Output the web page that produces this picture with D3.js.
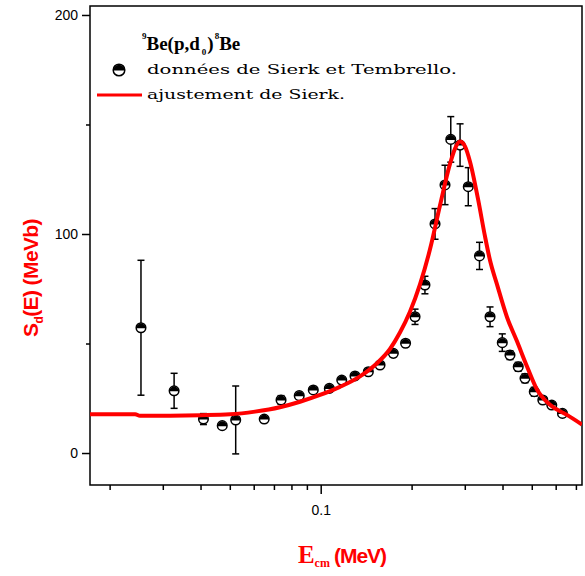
<!DOCTYPE html>
<html>
<head>
<meta charset="utf-8">
<script src="https://cdn.jsdelivr.net/npm/d3@7"></script>
<style>
  html, body { margin: 0; padding: 0; background: #fff; }
  svg { display: block; }
  .tick text { font-family: "Liberation Sans", Arial, sans-serif; font-size: 14px; fill: #000; }
</style>
</head>
<body>
<svg id="chart" width="585" height="576"></svg>
<script>
    // --- data ---
    const energies = [0.0254, 0.0327, 0.0409, 0.0472, 0.0523, 0.0650, 0.0739, 0.0849, 0.0945, 0.1068, 0.1174,
        0.1299, 0.1438, 0.1572, 0.1740, 0.1910, 0.2053, 0.2214, 0.2391, 0.2580, 0.2696, 0.2894, 0.3081,
        0.3356, 0.3637, 0.3993, 0.4234, 0.4510, 0.4748, 0.5096, 0.5439, 0.5823, 0.6318];
    const sValues = [57.2, 28.4, 15.5, 12.5, 15.1, 15.5, 24.2, 26.2, 28.8, 29.5, 33.3,
        35.2, 37.1, 40.2, 45.5, 50.1, 62.2, 76.7, 104.6, 122.4, 143.2, 140.6, 121.6,
        90.0, 62.2, 50.4, 44.7, 39.4, 34.1, 28.0, 24.2, 21.9, 18.1];
    const sErrors = [30.8, 8.0, 2.5, 0, 15.5, 1.5, 2.0, 1.5, 1.5, 1.5, 1.5,
        1.5, 1.5, 1.5, 1.5, 1.5, 3.5, 4.0, 7.0, 9.0, 10.4, 9.7, 8.7,
        6.2, 4.5, 4.0, 2.0, 2.0, 2.0, 2.0, 1.5, 1.5, 1.5];

    const fitEnergies = [0.0172, 0.0243, 0.0252, 0.0399, 0.0501, 0.0606, 0.0733, 0.0854, 0.0995, 0.1158, 0.1349,
        0.1536, 0.1696, 0.1830, 0.1975, 0.2132, 0.2301, 0.2483, 0.2680, 0.2785, 0.2892, 0.3005,
        0.3122, 0.3318, 0.3499, 0.3636, 0.3835, 0.4140, 0.4467, 0.4822, 0.5203, 0.5744, 0.6540, 0.7333];
    const fitValues = [17.7, 17.7, 17.0, 17.3, 17.7, 18.9, 20.9, 23.4, 26.5, 30.2, 35.0,
        41.0, 47.5, 55.0, 64.5, 77.0, 93.0, 113.0, 132.0, 139.0, 142.2, 140.0,
        133.0, 116.0, 99.0, 88.0, 77.0, 62.0, 51.0, 39.5, 29.0, 22.0, 17.4, 13.0];

    const yMajorTicks = [0, 100, 200];
    const yMinorTicks = [50, 150];
    const xMajorTicks = [0.1];
    const xMinorTicks = [0.02, 0.03, 0.04, 0.05, 0.06, 0.07, 0.08, 0.09, 0.2, 0.3, 0.4, 0.5, 0.6, 0.7];

    const legendData = "données de Sierk et Tembrello.";
    const legendFit = "ajustement de Sierk.";

(function() {
    // --- layout ---
    const left = 90, right = 582, plotTop = 6, bottom = 485;
    const svg = d3.select('#chart');

    const x = d3.scaleLog().domain([0.01722, 0.7333]).range([left, right]);
    const y = d3.scaleLinear().domain([-14.6, 204.1]).range([bottom, plotTop]);

    svg.append('defs').append('clipPath').attr('id', 'plot-clip')
        .append('rect').attr('x', left).attr('y', plotTop).attr('width', right - left).attr('height', bottom - plotTop);

    // axes
    const yMajor = svg.append('g').attr('transform', `translate(${left},0)`)
        .call(d3.axisLeft(y).tickValues(yMajorTicks).tickSize(8).tickPadding(4).tickFormat(d3.format('d')));
    const yMinor = svg.append('g').attr('transform', `translate(${left},0)`)
        .call(d3.axisLeft(y).tickValues(yMinorTicks).tickSize(4).tickFormat(''));
    const xMajor = svg.append('g').attr('transform', `translate(0,${bottom})`)
        .call(d3.axisBottom(x).tickValues(xMajorTicks).tickSize(9).tickPadding(11).tickFormat(d => d));
    const xMinor = svg.append('g').attr('transform', `translate(0,${bottom})`)
        .call(d3.axisBottom(x).tickValues(xMinorTicks).tickSize(5).tickFormat(''));
    [yMajor, yMinor, xMajor, xMinor].forEach(g => {
        g.select('.domain').remove();
        g.selectAll('.tick line').attr('stroke', '#000').attr('stroke-width', 1.5);
    });

    // frame
    svg.append('rect').attr('x', left).attr('y', plotTop).attr('width', right - left).attr('height', bottom - plotTop)
        .attr('fill', 'none').attr('stroke', '#000').attr('stroke-width', 1.5);

    const plot = svg.append('g').attr('clip-path', 'url(#plot-clip)');

    // data points with error bars
    const points = energies.map((e, i) => ({ e: e, v: sValues[i], err: sErrors[i] }));
    const pg = plot.selectAll('.pt').data(points).enter().append('g').attr('class', 'pt')
        .attr('transform', d => `translate(${x(d.e)},${y(d.v)})`);
    pg.filter(d => d.err > 0).each(function(d) {
        const g = d3.select(this);
        const hi = y(d.v + d.err) - y(d.v), lo = y(d.v - d.err) - y(d.v);
        g.append('line').attr('x1', 0).attr('x2', 0).attr('y1', hi).attr('y2', lo);
        g.append('line').attr('x1', -3.5).attr('x2', 3.5).attr('y1', hi).attr('y2', hi);
        g.append('line').attr('x1', -3.5).attr('x2', 3.5).attr('y1', lo).attr('y2', lo);
        g.selectAll('line').attr('stroke', '#000').attr('stroke-width', 1.5);
    });
    function marker(g, r) {
        g.append('circle').attr('r', r).attr('fill', '#fff').attr('stroke', '#000').attr('stroke-width', 1.5);
        g.append('path').attr('d', `M${-r},0.5 A${r},${r} 0 0 1 ${r},0.5 Z`).attr('fill', '#000');
    }
    pg.each(function() { marker(d3.select(this), 4.8); });

    // fit curve
    const fit = fitEnergies.map((e, i) => ({ e: e, v: fitValues[i] }));
    plot.append('path').datum(fit)
        .attr('d', d3.line().x(d => x(d.e)).y(d => y(d.v)).curve(d3.curveMonotoneX))
        .attr('fill', 'none').attr('stroke', '#ff0000').attr('stroke-width', 4);

    // legend
    const title = svg.append('text').attr('x', 142).attr('y', 50)
        .attr('font-family', '"Liberation Serif", "Times New Roman", serif').attr('font-weight', 'bold')
        .attr('font-size', 19).attr('fill', '#000');
    title.append('tspan').attr('font-size', 9).attr('dy', -11).text('9');
    title.append('tspan').attr('dy', 11).text('Be(p,d');
    title.append('tspan').attr('font-size', 9).attr('dy', 5).attr('dx', 2).text('0');
    title.append('tspan').attr('dy', -5).attr('dx', 1).text(')');
    title.append('tspan').attr('font-size', 9).attr('dy', -11).attr('dx', 1).text('8');
    title.append('tspan').attr('dy', 11).text('Be');

    marker(svg.append('g').attr('transform', 'translate(119,70)'), 5.8);
    svg.append('text').attr('x', 147).attr('y', 74).text(legendData)
        .attr('font-family', '"DejaVu Serif", serif').attr('font-size', 12.5)
        .attr('textLength', 310).attr('lengthAdjust', 'spacingAndGlyphs');
    svg.append('line').attr('x1', 97).attr('x2', 142).attr('y1', 95).attr('y2', 95)
        .attr('stroke', '#ff0000').attr('stroke-width', 3);
    svg.append('text').attr('x', 147).attr('y', 99).text(legendFit)
        .attr('font-family', '"DejaVu Serif", serif').attr('font-size', 12.5)
        .attr('textLength', 198).attr('lengthAdjust', 'spacingAndGlyphs');

    // axis titles
    const yl = svg.append('text').attr('transform', 'translate(38,278) rotate(-90)')
        .attr('text-anchor', 'middle').attr('fill', '#ff0000').attr('font-weight', 'bold')
        .attr('font-family', '"Liberation Sans", Arial, sans-serif').attr('font-size', 21)
        .attr('letter-spacing', -0.6);
    yl.append('tspan').text('S');
    yl.append('tspan').attr('font-size', 12).attr('dy', 5).text('d');
    yl.append('tspan').attr('dy', -5).text('(E) (MeVb)');

    const xl = svg.append('text').attr('x', 342).attr('y', 563).attr('text-anchor', 'middle')
        .attr('fill', '#ff0000').attr('font-weight', 'bold');
    xl.append('tspan').attr('font-family', '"Liberation Serif", serif').attr('font-size', 25).text('E');
    xl.append('tspan').attr('font-family', '"Liberation Serif", serif').attr('font-size', 12).attr('dy', 4).text('cm');
    xl.append('tspan').attr('font-family', '"Liberation Sans", Arial, sans-serif').attr('font-size', 21)
        .attr('dy', -4).attr('dx', 4).attr('letter-spacing', -1).text('(MeV)');
})();
</script>
</body>
</html>
